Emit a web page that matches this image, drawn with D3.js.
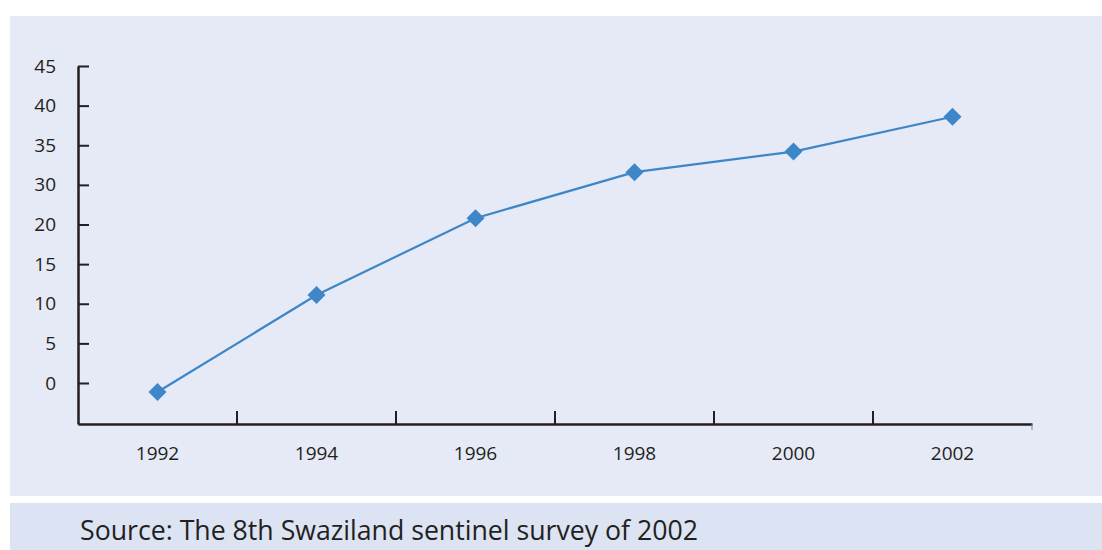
<!DOCTYPE html>
<html>
<head>
<meta charset="utf-8">
<script src="https://cdn.jsdelivr.net/npm/d3@7"></script>
<style>
  body { margin: 0; background: #fff; }
  text { font-family: "Open Sans", "Noto Sans", sans-serif; fill: #231f20; }
</style>
</head>
<body>
<div id="chart"></div>
<script>
// Data
const years = ['1992', '1994', '1996', '1998', '2000', '2002'];
const values = [-1.1, 11.1, 21.6, 31.6, 34.2, 38.6];
// Axis labels as printed (the original skips 25)
const yTicks = [0, 5, 10, 15, 20, 30, 35, 40, 45];
const sourceText = 'Source: The 8th Swaziland sentinel survey of 2002';

const width = 1102;
const height = 550;

const svg = d3.select('#chart')
    .append('svg')
    .attr('width', width)
    .attr('height', height);

// Background panels
svg.append('rect')
    .attr('x', 10).attr('y', 16)
    .attr('width', width - 10).attr('height', 480)
    .attr('fill', '#e6eaf6');

svg.append('rect')
    .attr('x', 10).attr('y', 503)
    .attr('width', width - 10).attr('height', 47)
    .attr('fill', '#dce3f2');

const plotLeft = 78, plotRight = 1032, plotTop = 66, zeroY = 383, baseY = 424;

// x: one band per survey year
const x = d3.scaleBand()
    .domain(years)
    .range([plotLeft, plotRight]);

// y: printed ticks are evenly spaced, so map each tick to its own slot
const step = (zeroY - plotTop) / (yTicks.length - 1);
const y = d3.scaleLinear()
    .domain([-5].concat(yTicks))
    .range([baseY].concat(yTicks.map((d, i) => zeroY - i * step)));

// y axis, ticks pointing inward
const yAxis = svg.append('g')
    .attr('transform', `translate(${plotLeft},0)`)
    .call(d3.axisLeft(y)
        .tickValues(yTicks)
        .tickSizeInner(-11)
        .tickSizeOuter(0)
        .tickPadding(22));
yAxis.select('.domain').attr('stroke', '#231f20').attr('stroke-width', 2.5);
yAxis.selectAll('.tick line').attr('stroke', '#231f20').attr('stroke-width', 2);
yAxis.selectAll('text').attr('font-size', 19).style('font-family', '"Open Sans", sans-serif').attr('fill', '#231f20');

// x axis with labels centred in bands
const xAxis = svg.append('g')
    .attr('transform', `translate(0,${baseY})`)
    .call(d3.axisBottom(x)
        .tickSize(0)
        .tickPadding(23));
xAxis.select('.domain').attr('stroke', '#231f20').attr('stroke-width', 2.5);
xAxis.selectAll('text').attr('font-size', 19).style('font-family', '"Open Sans", sans-serif').attr('fill', '#231f20');

// tick marks between bands
svg.append('g')
    .selectAll('line')
    .data(years.slice(1))
    .enter()
    .append('line')
    .attr('x1', d => x(d))
    .attr('x2', d => x(d))
    .attr('y1', baseY)
    .attr('y2', baseY - 13)
    .attr('stroke', '#231f20')
    .attr('stroke-width', 2);

// little end mark at the right of the x axis
svg.append('line')
    .attr('x1', x.range()[1]).attr('x2', x.range()[1])
    .attr('y1', baseY).attr('y2', baseY + 6)
    .attr('stroke', '#7a7ac0')
    .attr('stroke-width', 1);

// series line
const line = d3.line()
    .x((d, i) => x(years[i]) + x.bandwidth() / 2)
    .y(d => y(d));

svg.append('path')
    .datum(values)
    .attr('d', line)
    .attr('fill', 'none')
    .attr('stroke', '#3d86c8')
    .attr('stroke-width', 2.2);

// diamond markers
svg.append('g')
    .selectAll('path')
    .data(values)
    .enter()
    .append('path')
    .attr('d', 'M0,-9L9,0L0,9L-9,0Z')
    .attr('transform', (d, i) => `translate(${x(years[i]) + x.bandwidth() / 2},${y(d)})`)
    .attr('fill', '#3d86c8');

// source note
svg.append('text')
    .attr('x', 80)
    .attr('y', 540)
    .attr('font-size', 28)
    .attr('textLength', 618)
    .attr('lengthAdjust', 'spacingAndGlyphs')
    .text(sourceText);
</script>
</body>
</html>
